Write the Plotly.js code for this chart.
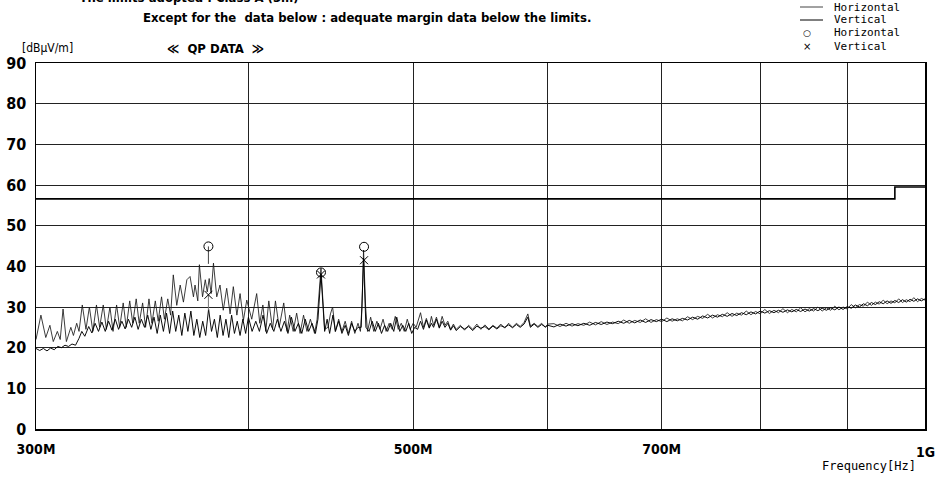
<!DOCTYPE html>
<html>
<head>
<meta charset="utf-8">
<script src="https://cdn.plot.ly/plotly-3.0.1.min.js"></script>
<style>
  html, body { margin: 0; padding: 0; background: #fff; }
  #chart { width: 935px; height: 478px; }
</style>
</head>
<body>
<div id="chart"></div>
<script>
// ---------- data (MHz, dBuV/m) ----------
const freqHHead = [300, 302, 304, 305.7, 307.1, 308.8, 310, 311.2, 312.6, 314.5,
  315.6, 317, 318, 319.4, 321, 322.5, 324, 325.6, 327, 328.6,
  330, 331.6, 333, 334.6, 336, 337.6, 339, 340.6, 342, 343.6,
  345, 346.6, 348, 349.6, 351, 352.6, 354, 355.6, 357, 358.6,
  360, 361.3, 363, 364.7, 366.3, 368, 369.6, 371.3, 372.1, 373.5,
  374.3, 375.9, 377.3, 378.3, 379.3, 380.3, 381.5, 383.2, 384.9, 386.6,
  388.4, 390.2, 391.9, 393.8, 395.5, 397.3, 399.1, 401.8, 404.5, 406.2,
  407.9, 409.5, 411.2, 413.3, 414.9, 417, 419.6, 421.5, 423, 425,
  427, 429, 431, 433, 435, 437.5, 439, 441.3, 443.5, 445.5,
  447, 448.3, 450, 452, 454, 456, 458, 460, 462, 464,
  465.5, 466.5, 467.5, 468.8, 470, 472, 474, 476, 478, 480,
  482, 484, 486, 488, 490, 492, 494, 496, 498, 500, 502];
const levelHHead = [22, 28, 22.5, 25.5, 21.5, 24, 22, 29.5, 21.5, 25,
  23, 26, 24, 30.5, 24.5, 30, 24, 30.5, 25, 30.5,
  24.5, 30, 24, 30.5, 25, 31, 25, 31.5, 26, 32,
  26, 31, 25, 32, 26, 31.5, 26.5, 32.5, 27, 32,
  28, 37.9, 30.4, 35.4, 31.2, 36.7, 37.5, 32.5, 35.4, 31.5,
  40.4, 32.5, 36.7, 33.7, 37, 33.3, 40.8, 32.5, 35.4, 29.2,
  34.6, 28.3, 35, 28, 33.3, 26.7, 31.7, 27, 33.3, 26,
  30.5, 24, 31.5, 24.5, 31.5, 25, 31, 24, 28, 24,
  28.5, 23.5, 28, 24, 27, 23.5, 27, 39.5, 24.5, 25,
  28.3, 30, 24, 27, 24, 26.5, 23.5, 26.5, 23.5, 26,
  24, 30, 44, 30, 24, 27.5, 24, 26.5, 24.5, 27,
  24, 26, 24.5, 27.7, 24.5, 26, 24, 27, 24.5, 26, 25];

const freqVHead = [300, 301.5, 303, 304.5, 306, 307.5, 309, 310.5, 312, 313.5,
  315, 316.5, 318, 319.2, 320.5, 322.2, 323.6, 325, 326.5, 328,
  329.5, 331, 332.5, 334, 335.5, 337, 338.5, 340, 341.5, 343,
  344.5, 346, 347.5, 349, 350.5, 352, 353.5, 355, 356.5, 358,
  359.5, 361, 362.5, 364, 365.5, 367, 368.5, 370, 371.5, 373,
  374.5, 376, 377.5, 379, 380.5, 382, 383.5, 385, 386.5, 388,
  389.5, 391, 392.5, 394, 395.5, 397, 398.5, 400, 402, 404,
  406, 408, 410, 412, 414, 416, 418, 420, 422, 424,
  426, 428, 430, 432, 434, 436, 438, 439.5, 441.3, 443.5,
  445, 446.5, 448.5, 450, 452, 454, 456, 458, 460, 462,
  464, 466, 467.5, 469, 471, 473, 475, 477, 479, 481,
  483, 485, 487, 489, 491, 493, 495, 497, 499, 501, 503];
const levelVHead = [19.8, 19.3, 19.8, 19.2, 19.9, 19.5, 20.3, 20, 20.6, 20.3,
  20.9, 20.6, 22.3, 24, 22.8, 25.2, 23.6, 26, 24, 26.3,
  24, 26.5, 24.3, 27, 24.5, 26.5, 24.6, 27, 25, 27.5,
  24.5, 27, 25, 28, 24.5, 27.5, 23.5, 28, 24, 28.5,
  23.5, 29, 24, 28, 23, 28.5, 24, 29, 23, 27,
  22.5, 26.5, 23, 29.5, 24, 27, 22.5, 28, 23, 27,
  22.5, 28, 23.5, 26.5, 23, 27, 23.5, 27.5, 24, 26.5,
  24, 28, 23.5, 26, 24, 27, 24, 26.5, 23.5, 27.5,
  24, 26, 23.5, 27, 24, 26, 23.5, 27, 38, 24,
  27, 23.5, 28, 24, 26.5, 23.5, 25.5, 23, 26, 24,
  25, 25, 42, 25, 24, 26.5, 24, 26, 23.5, 25.5,
  24, 26, 24, 27.5, 24, 25.5, 24, 26, 23.5, 25, 24.5];

const freqMid = [505, 507, 509, 511, 512.5, 514, 516, 518, 520, 522,
  524, 526, 528, 530, 533, 536, 539, 542, 545, 548,
  551, 554, 557, 560, 563, 566, 569, 572, 575, 578,
  581, 584, 586, 589, 592, 595, 598, 600];
const levelHMid = [28.6, 25, 27.2, 25, 27.7, 25.5, 27.5, 25, 27.7, 25.5,
  26.5, 24.5, 25.8, 24.5, 25.5, 24.3, 25.5, 24.5, 25.8, 24.5,
  25.6, 24.6, 25.5, 24.8, 25.8, 24.8, 26, 25, 26, 25.2,
  26.2, 28.3, 25.3, 26, 25.2, 26, 25, 25.8];
const levelVMid = [26.5, 24.5, 26.8, 24.8, 26, 25, 27, 24.8, 26.5, 25,
  26, 24.3, 25.4, 24.2, 25.2, 24.6, 25.2, 24.2, 25.3, 24.8,
  25.2, 24.4, 25.3, 24.6, 25.4, 25, 25.6, 24.9, 25.7, 25,
  25.8, 27.5, 25, 25.8, 25, 25.7, 25.1, 25.5];

const freqTail = [605, 610, 615, 620, 625, 630, 635, 640, 645, 650,
  655, 660, 665, 670, 675, 680, 685, 690, 695, 700,
  705, 710, 715, 720, 725, 730, 735, 740, 745, 750,
  755, 760, 765, 770, 775, 780, 785, 790, 795, 800,
  805, 810, 815, 820, 825, 830, 835, 840, 845, 850,
  855, 860, 865, 870, 875, 880, 885, 890, 895, 900,
  905, 910, 915, 920, 925, 930, 935, 940, 945, 950,
  955, 960, 965, 970, 975, 980, 985, 990, 995, 1000];
const levelHTail = [25.9, 25.2, 26.0, 25.3, 25.9, 25.5, 26.3, 25.6, 26.4, 25.7,
  26.3, 25.9, 26.8, 26.0, 26.7, 26.2, 27.1, 26.2, 26.9, 26.4,
  27.3, 26.5, 27.1, 26.6, 27.6, 26.9, 27.7, 27.2, 28.2, 27.3,
  28.1, 27.6, 28.6, 27.7, 28.5, 28.0, 29.0, 28.1, 28.9, 28.3,
  29.4, 28.4, 29.2, 28.6, 29.6, 28.6, 29.4, 28.8, 29.8, 28.8,
  29.6, 29.0, 30.0, 29.0, 29.8, 29.2, 30.2, 29.3, 30.0, 29.5,
  30.6, 29.8, 30.6, 30.2, 31.2, 30.4, 31.2, 30.7, 31.7, 30.8,
  31.5, 31.0, 32.0, 31.1, 31.8, 31.3, 32.3, 31.3, 32.1, 31.7];
const levelVTail = [25.1, 25.8, 25.3, 25.9, 25.4, 26.0, 25.5, 26.2, 25.7, 26.3,
  25.9, 26.5, 26.0, 26.7, 26.1, 26.8, 26.2, 26.9, 26.4, 27.0,
  26.4, 27.1, 26.6, 27.2, 26.8, 27.5, 27.0, 27.8, 27.3, 28.0,
  27.5, 28.2, 27.7, 28.4, 27.9, 28.6, 28.1, 28.8, 28.3, 29.0,
  28.5, 29.1, 28.6, 29.2, 28.7, 29.3, 28.8, 29.4, 28.9, 29.5,
  29.0, 29.6, 29.1, 29.7, 29.2, 29.8, 29.3, 30.0, 29.4, 30.1,
  29.7, 30.5, 30.0, 30.8, 30.3, 31.1, 30.6, 31.3, 30.8, 31.5,
  30.9, 31.6, 31.1, 31.8, 31.2, 31.9, 31.4, 32.0, 31.5, 32.0];

const limitFreq = [300, 960, 960, 1000];
const limitLevel = [56.6, 56.6, 59.5, 59.5];

const qpFreq = [378.9, 441.3, 467.8];
const qpLevelH = [44.9, 38.5, 44.8];
const qpLevelV = [33.0, 38.0, 41.5];
const qpStemH = [4.3, 0, 0];
const qpStemV = [3.8, 0, 0];

const xTickVals = [300, 400, 500, 600, 700, 800, 900, 1000];
const xTickText = ['300M', '', '500M', '', '700M', '', '', ''];
const yTickVals = [0, 10, 20, 30, 40, 50, 60, 70, 80, 90];

// ---------- build ----------
const freqH = freqHHead.concat(freqMid, freqTail);
const levelH = levelHHead.concat(levelHMid, levelHTail);
const freqV = freqVHead.concat(freqMid, freqTail);
const levelV = levelVHead.concat(levelVMid, levelVTail);

const NARROW = 'Liberation Sans Narrow, DejaVu Sans Condensed, Arial Narrow, sans-serif';
const MONO = 'DejaVu Sans Mono, Liberation Mono, monospace';

const traces = [
  {x: limitFreq, y: limitLevel, mode: 'lines', line: {color: '#000', width: 1.6}, showlegend: false},
  {x: freqH, y: levelH, mode: 'lines', name: 'Horizontal', line: {color: '#1a1a1a', width: 0.85}, showlegend: false},
  {x: freqV, y: levelV, mode: 'lines', name: 'Vertical', line: {color: '#000', width: 0.95}, showlegend: false},
  {x: qpFreq, y: qpLevelH, mode: 'markers', showlegend: false,
    marker: {symbol: 'circle-open', size: 9, color: '#000', line: {width: 1, color: '#000'}},
    error_y: {type: 'data', symmetric: false, array: [0, 0, 0], arrayminus: qpStemH, width: 0, thickness: 1, color: '#444'}},
  {x: qpFreq, y: qpLevelV, mode: 'markers', showlegend: false,
    marker: {symbol: 'x-thin-open', size: 8, color: '#000', line: {width: 1, color: '#000'}},
    error_y: {type: 'data', symmetric: false, array: [0, 0, 0], arrayminus: qpStemV, width: 0, thickness: 1, color: '#777'}}
];

function px2paperX(px) { return (px - 36) / 889; }
function px2paperY(py) { return (429 - py) / 366; }

const legendRows = [7, 20, 33, 46];
const annFont = {family: NARROW, size: 13, color: '#000', weight: 'bold'};
const legFont = {family: MONO, size: 11, color: '#000'};

const annotations = [
  {text: '**    The limits adopted : Class A (3m)', x: px2paperX(50), y: px2paperY(-3), xanchor: 'left', yanchor: 'middle', font: annFont},
  {text: 'Except for the  data below : adequate margin data below the limits.', x: px2paperX(142), y: px2paperY(17), xanchor: 'left', yanchor: 'middle', font: annFont},
  {text: '[dBμV/m]', x: px2paperX(21), y: px2paperY(48), xanchor: 'left', yanchor: 'middle', font: {family: NARROW, size: 12, color: '#000'}},
  {text: '≪  QP DATA  ≫', x: px2paperX(215), y: px2paperY(48), xanchor: 'center', yanchor: 'middle', font: annFont},
  {text: 'Horizontal', x: px2paperX(833), y: px2paperY(legendRows[0]), xanchor: 'left', yanchor: 'middle', font: legFont},
  {text: 'Vertical', x: px2paperX(833), y: px2paperY(legendRows[1]), xanchor: 'left', yanchor: 'middle', font: legFont},
  {text: 'Horizontal', x: px2paperX(833), y: px2paperY(legendRows[2]), xanchor: 'left', yanchor: 'middle', font: legFont},
  {text: 'Vertical', x: px2paperX(833), y: px2paperY(legendRows[3]), xanchor: 'left', yanchor: 'middle', font: legFont},
  {text: '○', x: px2paperX(807), y: px2paperY(legendRows[2]), xanchor: 'center', yanchor: 'middle', font: {family: 'DejaVu Sans', size: 9, color: '#000'}},
  {text: '×', x: px2paperX(807), y: px2paperY(legendRows[3]), xanchor: 'center', yanchor: 'middle', font: {family: 'DejaVu Sans', size: 10, color: '#000'}},
  {text: '1G', x: 1, y: px2paperY(452), xanchor: 'center', yanchor: 'middle', font: {family: NARROW, size: 14, color: '#000', weight: 'bold'}},
  {text: 'Frequency[Hz]', x: px2paperX(917), y: px2paperY(466), xanchor: 'right', yanchor: 'middle', font: {family: MONO, size: 12, color: '#000'}}
].map(a => Object.assign({xref: 'paper', yref: 'paper', showarrow: false, borderpad: 0}, a));

const shapes = [0, 1].map(i => ({
  type: 'line', xref: 'paper', yref: 'paper',
  x0: px2paperX(800), x1: px2paperX(823),
  y0: px2paperY(legendRows[i]), y1: px2paperY(legendRows[i]),
  line: {color: i === 0 ? '#444' : '#000', width: 1}
}));

const layout = {
  width: 935, height: 478,
  margin: {l: 36, r: 10, t: 63, b: 49},
  paper_bgcolor: '#fff', plot_bgcolor: '#fff',
  showlegend: false,
  xaxis: {
    type: 'log', range: [Math.log10(300), Math.log10(1000)],
    tickvals: xTickVals, ticktext: xTickText, ticks: '',
    ticklabelstandoff: 7,
    showgrid: true, gridcolor: '#222', gridwidth: 1,
    showline: true, mirror: true, linecolor: '#000', linewidth: 1.5,
    zeroline: false,
    tickfont: {family: NARROW, size: 14, color: '#000', weight: 'bold'}
  },
  yaxis: {
    range: [0, 90], tickvals: yTickVals, ticks: '',
    ticklabelstandoff: 5,
    showgrid: true, gridcolor: '#222', gridwidth: 1,
    showline: true, mirror: true, linecolor: '#000', linewidth: 1.5,
    zeroline: false,
    tickfont: {family: NARROW, size: 16, color: '#000', weight: 'bold'}
  },
  annotations: annotations,
  shapes: shapes
};

Plotly.newPlot('chart', traces, layout, {staticPlot: true, displayModeBar: false});
</script>
</body>
</html>
